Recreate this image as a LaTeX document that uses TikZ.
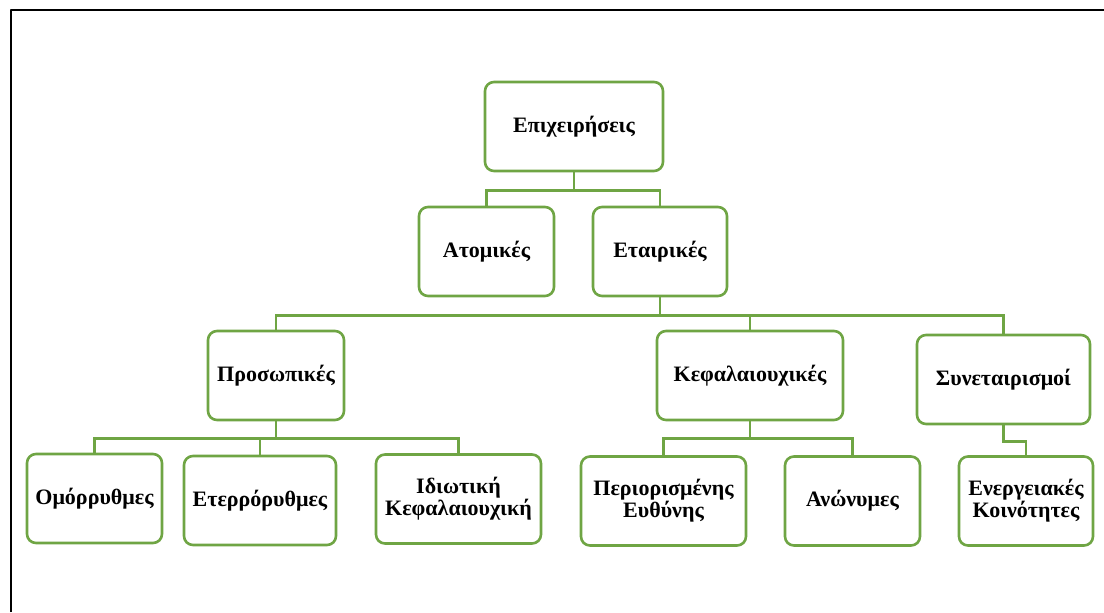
\documentclass[tikz,border=0pt]{standalone}
\usepackage{fontspec}
\setmainfont{Liberation Serif}
\begin{document}
\begin{tikzpicture}[x=0.5pt, y=-0.5pt, line cap=round, line join=round]
\definecolor{orggreen}{HTML}{6FA544}
\tikzset{
  orgbox/.style={draw=orggreen, line width=1.3pt, rounded corners=4.5pt, fill=white,
    align=center, inner sep=0pt, minimum height=44.5pt,
    font=\bfseries\fontsize{11}{11}\selectfont},
  orglink/.style={draw=orggreen, line width=1.3pt, line cap=butt, line join=miter}
}
\useasboundingbox (0,0) rectangle (1104,612);
% ---- page frame (left and top edge only) ----
\draw[black, line width=1pt, line cap=butt] (11,612) -- (11,10) -- (1104,10);
% ---- boxes: name / centre x / centre y / width / label ----
\foreach \n/\x/\y/\w/\lab in {
  root/574/126.5/178/{Επιχειρήσεις},
  atom/486.5/251.5/135/{Ατομικές},
  etair/660/251.5/134/{Εταιρικές},
  pros/276/375.5/136/{Προσωπικές},
  kef/750/375.5/186/{Κεφαλαιουχικές},
  syn/1003.5/379.5/173/{Συνεταιρισμοί},
  omor/94.5/498.5/135/{Ομόρρυθμες},
  eter/260/500.5/152/{Ετερρόρυθμες},
  idiot/458.5/499/165/{Ιδιωτική\\Κεφαλαιουχική},
  peri/663.5/501/165/{Περιορισμένης\\Ευθύνης},
  anon/852.5/501/135/{Ανώνυμες},
  ener/1026/501/134/{Ενεργειακές\\Κοινότητες}} {
  \node[orgbox, minimum width=\w*0.5pt] (\n) at (\x,\y) {\lab};
}
% ---- connectors (elbow lines from parent to child) ----
\foreach \c in {atom, etair}
  \draw[orglink] (root.south) -- ++(0,18) -| (\c.north);
\foreach \c in {pros, kef, syn}
  \draw[orglink] (etair.south) -- ++(0,18) -| (\c.north);
\foreach \c in {omor, eter, idiot}
  \draw[orglink] (pros.south) -- ++(0,17) -| (\c.north);
\foreach \c in {peri, anon}
  \draw[orglink] (kef.south) -- ++(0,17) -| (\c.north);
\draw[orglink] (syn.south) -- ++(0,16) -| (ener.north);
\end{tikzpicture}
\end{document}
